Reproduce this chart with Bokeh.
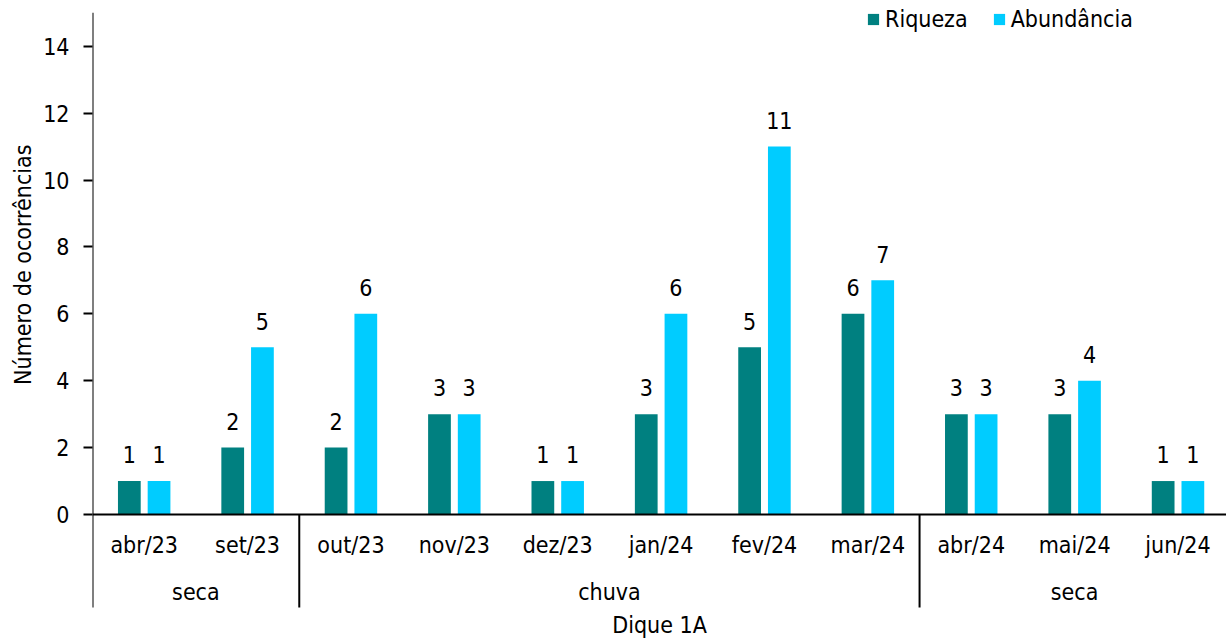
from bokeh.plotting import figure
from bokeh.models import Range1d, FixedTicker, Legend, LegendItem, Title, ColumnDataSource
from bokeh.core.properties import value
from bokeh.embed import file_html
from bokeh.resources import INLINE

# ---- data ----
months = ["abr/23", "set/23", "out/23", "nov/23", "dez/23", "jan/24",
          "fev/24", "mar/24", "abr/24", "mai/24", "jun/24"]
riqueza = [1, 2, 2, 3, 1, 3, 5, 6, 3, 3, 1]
abundancia = [1, 5, 6, 3, 1, 6, 11, 7, 3, 4, 1]
seasons = ["seca", "chuva", "seca"]
season_counts = [2, 6, 3]
y_ticks = [0, 2, 4, 6, 8, 10, 12, 14]
x_title = "Dique 1A"
y_title = "Número de ocorrências"

FONT = "DejaVu Sans Condensed"
FS = "23px"
C_RIQ = "#008080"
C_ABU = "#00CCFF"

W, H = 1226, 641
LEFT = 92
PX = 33.45            # pixels per unit on y
ZERO = 514            # pixel row of value 0
n = len(months)
X_END = n * (W - LEFT) / 1137.2
Y_TOP = ZERO / PX
Y_BOT = -(H - ZERO) / PX
OFF = 0.1437
BW = 0.22
SHIFT = 9.5 / PX      # text baseline correction
LAB_UP = 16.7 / PX + SHIFT

xs = [i + 0.5 for i in range(n)]
MONTH_Y = -40 / PX + SHIFT
SEASON_Y = -87 / PX + SHIFT
XT_Y = -120 / PX + SHIFT
LINE_BOT = -93 / PX

src = ColumnDataSource(dict(
    x=xs, month=months, riq=riqueza, abu=abundancia,
    xr=[x - OFF for x in xs], xa=[x + OFF for x in xs],
    riq_t=[str(v) for v in riqueza], abu_t=[str(v) for v in abundancia],
    riq_y=[v + LAB_UP for v in riqueza], abu_y=[v + LAB_UP for v in abundancia],
    my=[MONTH_Y] * n,
))

p = figure(width=W, height=H, output_backend="svg", toolbar_location=None,
           x_range=Range1d(0, X_END), y_range=Range1d(Y_BOT, Y_TOP),
           x_axis_location=None, y_axis_location="left",
           min_border_left=LEFT, min_border_right=0, min_border_top=0, min_border_bottom=0)
p.outline_line_color = None
p.grid.visible = False
p.background_fill_color = "white"

ax = p.yaxis[0]
ax.ticker = FixedTicker(ticks=y_ticks)
ax.axis_line_color = None
ax.minor_tick_line_color = None
ax.major_tick_in = 0
ax.major_tick_out = 9
ax.major_tick_line_width = 2
ax.major_tick_line_color = "black"
ax.major_label_standoff = 14
ax.major_label_text_font = FONT
ax.major_label_text_font_size = FS
ax.major_label_text_color = "black"

r1 = p.vbar(x="xr", top="riq", width=BW, bottom=0, source=src, fill_color=C_RIQ, line_color=None)
r2 = p.vbar(x="xa", top="abu", width=BW, bottom=0, source=src, fill_color=C_ABU, line_color=None)

txt = dict(text_font=value(FONT), text_font_size=FS, text_color="black",
           text_align="center", text_baseline="alphabetic")
p.text(x="xr", y="riq_y", text="riq_t", source=src, **txt)
p.text(x="xa", y="abu_y", text="abu_t", source=src, **txt)

# month labels
p.text(x="x", y="my", text="month", source=src, **txt)

# season labels and separators
bounds = [0]
for c in season_counts:
    bounds.append(bounds[-1] + c)
centers = [(bounds[i] + bounds[i + 1]) / 2 for i in range(len(seasons))]
p.text(x=centers, y=[SEASON_Y] * len(seasons), text=seasons, **txt)

sep_x = bounds[1:-1]
p.segment(x0=sep_x, y0=[LINE_BOT] * len(sep_x), x1=sep_x, y1=[0] * len(sep_x),
          line_color="black", line_width=2)
# left axis line
p.segment(x0=[0], y0=[LINE_BOT], x1=[0], y1=[15], line_color="black", line_width=2)
# baseline
p.segment(x0=[0], y0=[0], x1=[X_END], y1=[0], line_color="black", line_width=2)

# x title
p.text(x=[X_END / 2], y=[XT_Y], text=[x_title], **txt)

# y title
p.add_layout(Title(text=y_title, align="right", offset=144, standoff=10,
                   text_font=FONT, text_font_size=FS, text_font_style="normal",
                   text_color="black"), "left")

legend = Legend(items=[LegendItem(label="Riqueza", renderers=[r1]),
                       LegendItem(label="Abundância", renderers=[r2])],
                orientation="horizontal", location=(774, 609), padding=0, margin=0,
                spacing=24, glyph_width=14, glyph_height=14, label_standoff=5,
                border_line_color=None, background_fill_alpha=0,
                label_text_font=FONT, label_text_font_size=FS, label_text_color="black")
p.add_layout(legend)

open("out.html", "w").write(file_html(p, INLINE))
